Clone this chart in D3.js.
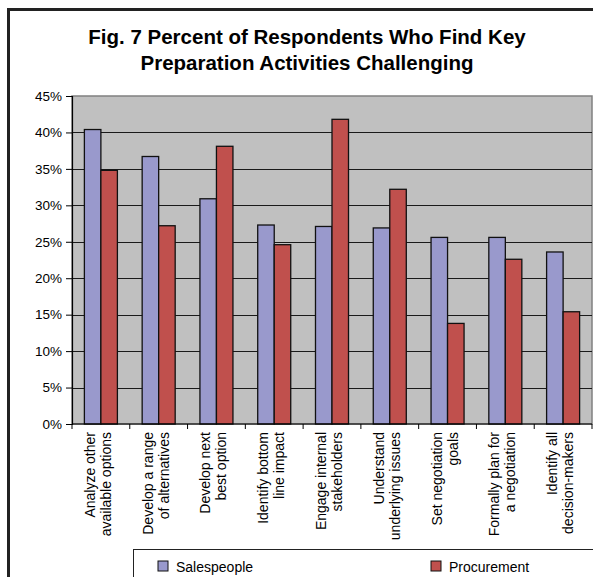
<!DOCTYPE html>
<html>
<head>
<meta charset="utf-8">
<script src="https://cdn.jsdelivr.net/npm/d3@7"></script>
<style>
  body { margin: 0; background: #fff; }
  svg { display: block; font-family: "Liberation Sans", Arial, sans-serif; }
</style>
</head>
<body>
<div id="viz"></div>
<script>
var width = 593,
    height = 577;

// Data
var categories = [
  ["Analyze other", "available options"],
  ["Develop a range", "of alternatives"],
  ["Develop next", "best option"],
  ["Identify bottom", "line impact"],
  ["Engage internal", "stakeholders"],
  ["Understand", "underlying issues"],
  ["Set negotiation", "goals"],
  ["Formally plan for", "a negotiation"],
  ["Identify all", "decision-makers"]
];
var seriesNames = ["Salespeople", "Procurement"];
var salespeople = [40.4, 36.7, 30.9, 27.3, 27.1, 26.9, 25.6, 25.6, 23.6];
var procurement = [34.8, 27.2, 38.1, 24.6, 41.8, 32.2, 13.8, 22.6, 15.4];
var yTicks = [0, 5, 10, 15, 20, 25, 30, 35, 40, 45];

var colors = {"Salespeople": "#9999cc", "Procurement": "#c0504d"};

var margin = {left: 72, right: 1, top: 96, bottom: 153};
var plotW = width - margin.left - margin.right,
    plotH = height - margin.top - margin.bottom;

var svg = d3.select("#viz").append("svg")
    .attr("width", width)
    .attr("height", height);

// outer frame (right and bottom run off the page)
svg.append("rect")
    .attr("x", 8.5).attr("y", 9.5)
    .attr("width", width + 20).attr("height", height + 20)
    .attr("fill", "none")
    .attr("stroke", "#222")
    .attr("stroke-width", 3);

// title
var title = svg.append("text")
    .attr("text-anchor", "middle")
    .attr("font-weight", "bold")
    .attr("font-size", "20.5px")
    .attr("fill", "#000");
title.append("tspan").attr("x", 307).attr("y", 44).text("Fig. 7 Percent of Respondents Who Find Key");
title.append("tspan").attr("x", 307).attr("y", 70).text("Preparation Activities Challenging");

var g = svg.append("g")
    .attr("transform", "translate(" + margin.left + "," + margin.top + ")");

var x0 = d3.scaleBand()
    .domain(d3.range(categories.length))
    .range([0, plotW])
    .padding(0);

var x1 = d3.scaleBand()
    .domain(seriesNames)
    .range([0, x0.bandwidth()])
    .paddingInner(0)
    .paddingOuter(0.75);

var y = d3.scaleLinear()
    .domain([0, 45])
    .range([plotH, 0]);

// plot background
g.append("rect")
    .attr("width", plotW).attr("height", plotH)
    .attr("fill", "#c0c0c0")
    .attr("stroke", "#808080")
    .attr("stroke-width", 1.5);

// gridlines
g.append("g")
    .selectAll("line")
    .data(yTicks.filter(function(d) { return d > 0 && d < 45; }))
    .enter().append("line")
    .attr("x1", 0).attr("x2", plotW)
    .attr("y1", function(d) { return Math.round(y(d)) + 0.5; })
    .attr("y2", function(d) { return Math.round(y(d)) + 0.5; })
    .attr("stroke", "#1a1a1a")
    .attr("stroke-width", 1);

// bars
var rows = categories.map(function(c, i) {
    return {i: i, values: [
        {key: "Salespeople", value: salespeople[i]},
        {key: "Procurement", value: procurement[i]}
    ]};
});

g.append("g")
    .selectAll("g")
    .data(rows)
    .enter().append("g")
    .attr("transform", function(d) { return "translate(" + x0(d.i) + ",0)"; })
    .selectAll("rect")
    .data(function(d) { return d.values; })
    .enter().append("rect")
    .attr("x", function(d) { return x1(d.key); })
    .attr("y", function(d) { return y(d.value); })
    .attr("width", x1.bandwidth())
    .attr("height", function(d) { return plotH - y(d.value); })
    .attr("fill", function(d) { return colors[d.key]; })
    .attr("stroke", "#111")
    .attr("stroke-width", 1.3);

// y axis
var yAxis = g.append("g")
    .call(d3.axisLeft(y).tickValues(yTicks)
        .tickFormat(function(d) { return d + "%"; })
        .tickSize(6).tickPadding(4));
yAxis.select(".domain").attr("stroke", "#000").attr("stroke-width", 1.2);
yAxis.selectAll(".tick line").attr("stroke", "#000");
yAxis.selectAll(".tick text")
    .attr("font-family", "Liberation Sans, Arial, sans-serif")
    .attr("font-size", "13.5px")
    .attr("fill", "#000");

// x axis: ticks at category boundaries
var xAxis = g.append("g").attr("transform", "translate(0," + plotH + ")");
xAxis.append("line")
    .attr("x1", 0).attr("x2", plotW)
    .attr("stroke", "#000").attr("stroke-width", 1.2);
xAxis.selectAll("line.tk")
    .data(d3.range(categories.length + 1))
    .enter().append("line")
    .attr("class", "tk")
    .attr("x1", function(i) { return i * x0.step(); })
    .attr("x2", function(i) { return i * x0.step(); })
    .attr("y1", 0).attr("y2", 5)
    .attr("stroke", "#000");

// rotated two-line category labels
var lbl = xAxis.selectAll("text.cat")
    .data(categories)
    .enter().append("text")
    .attr("class", "cat")
    .attr("transform", function(d, i) {
        return "translate(" + (x0(i) + x0.bandwidth() / 2) + ",8) rotate(-90)";
    })
    .attr("text-anchor", "end")
    .attr("font-size", "14px")
    .attr("fill", "#000");
lbl.selectAll("tspan")
    .data(function(d) { return d; })
    .enter().append("tspan")
    .attr("x", 0)
    .attr("y", function(d, j) { return j === 0 ? -6 : 10; })
    .text(function(d) { return d; });

// legend box
svg.append("rect")
    .attr("x", 133.5).attr("y", 549.5)
    .attr("width", 480).attr("height", 60)
    .attr("fill", "#fff")
    .attr("stroke", "#222")
    .attr("stroke-width", 1);

var legendX = {"Salespeople": 158, "Procurement": 431};
var leg = svg.selectAll("g.leg")
    .data(seriesNames)
    .enter().append("g")
    .attr("class", "leg")
    .attr("transform", function(d) { return "translate(" + legendX[d] + ",561)"; });
leg.append("rect")
    .attr("width", 10).attr("height", 10)
    .attr("fill", function(d) { return colors[d]; })
    .attr("stroke", "#111")
    .attr("stroke-width", 1);
leg.append("text")
    .attr("x", 18).attr("y", 10.5)
    .attr("font-size", "14px")
    .attr("fill", "#000")
    .text(function(d) { return d; });
</script>
</body>
</html>
